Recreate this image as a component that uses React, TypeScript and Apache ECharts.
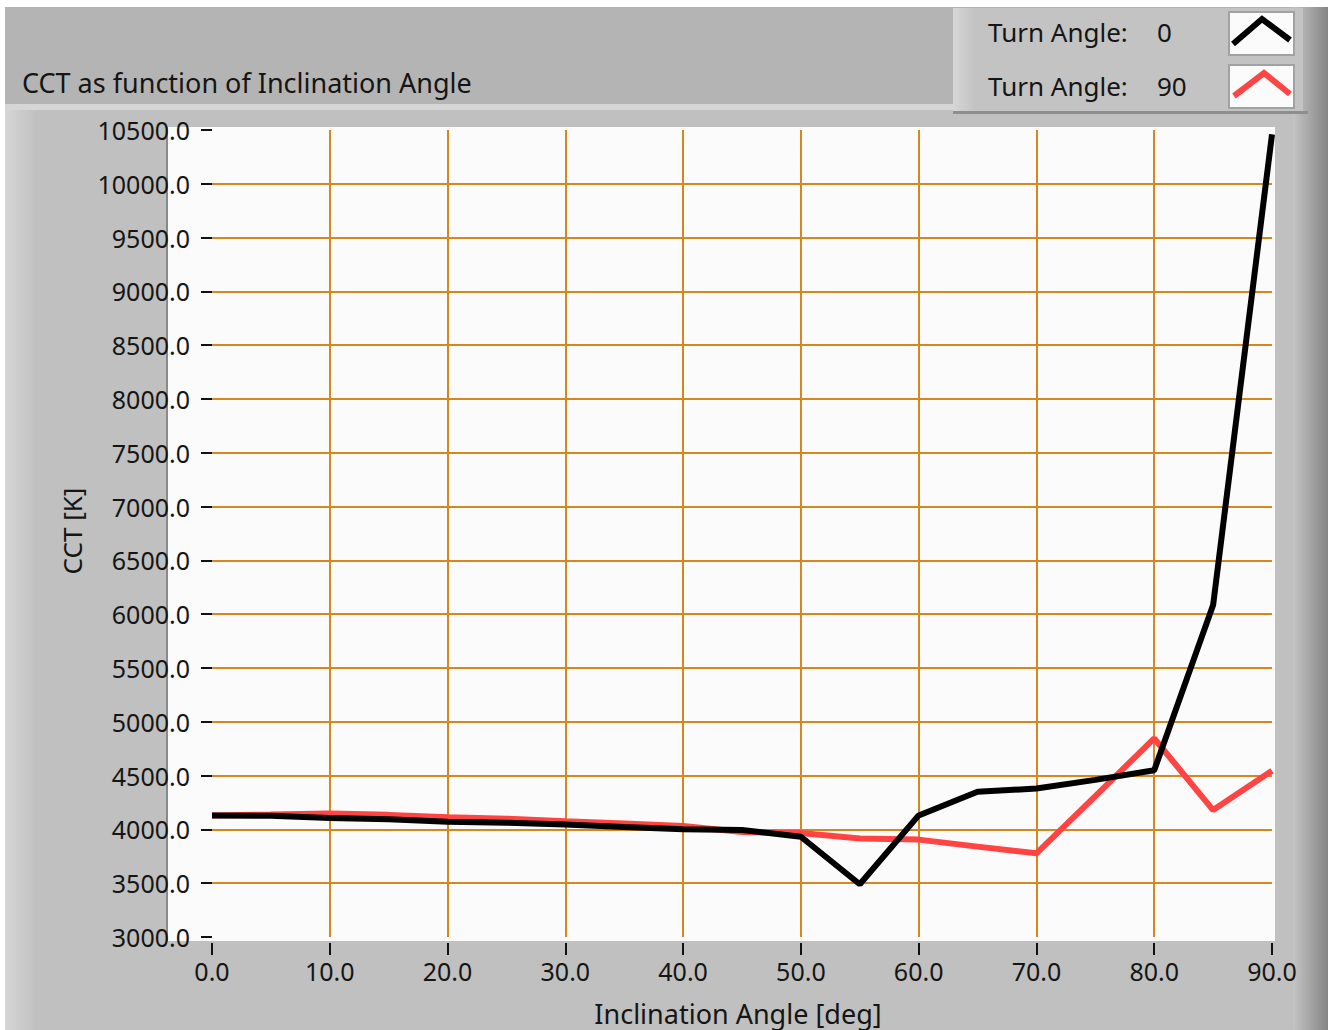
import React, { useEffect, useRef } from "react";
import * as echarts from "echarts";

const angles = [0, 5, 10, 15, 20, 25, 30, 35, 40, 45, 50, 55, 60, 65, 70, 75, 80, 85, 90];
const cctTurn0 = [4130, 4127, 4105, 4095, 4072, 4062, 4045, 4022, 4002, 3994, 3932, 3490, 4130, 4350, 4380, 4460, 4550, 6085, 10460];
const cctTurn90 = [4130, 4138, 4148, 4135, 4112, 4100, 4076, 4055, 4032, 3975, 3966, 3915, 3905, 3840, 3778, 4310, 4845, 4180, 4545];
const xTicks = { min: 0, max: 90, interval: 10 };
const yTicks = { min: 3000, max: 10500, interval: 500 };
const titleText = "CCT as function of Inclination Angle";
const legendNames = ["Turn Angle:", "Turn Angle:"];
const legendValues = ["0", "90"];
const xName = "Inclination Angle [deg]";
const yName = "CCT [K]";

const FONT = "'Noto Sans', 'Open Sans', sans-serif";
const TXT = "#151515";

export default function App() {
  const ref = useRef<HTMLDivElement>(null);
  useEffect(() => {
    if (!ref.current) return;
    const chart = echarts.init(ref.current, undefined, { renderer: "svg" });
    const pts0 = angles.map((a, i) => [a, cctTurn0[i]]);
    const pts90 = angles.map((a, i) => [a, cctTurn90[i]]);
    const bg = (shape: any, fill: any, z = -100) => ({ type: "rect", shape, style: { fill }, z, silent: true });
    chart.setOption({
      animation: false,
      backgroundColor: "#ffffff",
      grid: { left: 212, right: 56, top: 130, bottom: 93 },
      xAxis: {
        type: "value",
        min: xTicks.min,
        max: xTicks.max,
        interval: xTicks.interval,
        offset: 6,
        axisLine: { show: false },
        axisTick: { show: true, length: 12, lineStyle: { color: "#111", width: 2 } },
        axisLabel: { formatter: (v: number) => v.toFixed(1), fontFamily: FONT, fontSize: 25, color: TXT, margin: 15 },
        splitLine: { show: true, showMinLine: false, showMaxLine: false, lineStyle: { color: "#d4881e", width: 2 } },
      },
      yAxis: {
        type: "value",
        min: yTicks.min,
        max: yTicks.max,
        interval: yTicks.interval,
        offset: 5,
        axisLine: { show: false },
        axisTick: { show: true, length: 11, lineStyle: { color: "#111", width: 2 } },
        axisLabel: { formatter: (v: number) => v.toFixed(1), fontFamily: FONT, fontSize: 25, color: TXT, margin: 17 },
        splitLine: { show: true, showMinLine: false, showMaxLine: false, lineStyle: { color: "#d4881e", width: 2 } },
      },
      graphic: [
        bg({ x: 5, y: 7, width: 1323, height: 100 }, "#b4b4b4"),
        bg({ x: 5, y: 105, width: 1323, height: 925 }, "#c0c0c0"),
        bg({ x: 5, y: 104, width: 950, height: 6 }, "#d6d6d6"),
        bg({ x: 5, y: 110, width: 32, height: 920 }, new echarts.graphic.LinearGradient(0, 0, 1, 0, [
          { offset: 0, color: "#d6d6d6" }, { offset: 1, color: "#c0c0c0" }])),
        bg({ x: 1293, y: 7, width: 35, height: 1023 }, new echarts.graphic.LinearGradient(0, 0, 1, 0, [
          { offset: 0, color: "#c4c4c4" }, { offset: 1, color: "#858585" }])),
        bg({ x: 953, y: 8, width: 350, height: 104 }, "#c3c3c3"),
        bg({ x: 953, y: 8, width: 22, height: 104 }, new echarts.graphic.LinearGradient(0, 0, 1, 0, [
          { offset: 0, color: "#d6d6d6" }, { offset: 1, color: "#c3c3c3" }])),
        bg({ x: 953, y: 111, width: 355, height: 3 }, "#8e8e8e"),
        bg({ x: 166, y: 127, width: 1109, height: 814 }, "#fbfbfb", -50),
        { type: "line", shape: { x1: 167, y1: 127, x2: 167, y2: 941 }, style: { stroke: "#8a8a8a", lineWidth: 2 }, z: -40, silent: true },
        // legend swatches
        { type: "rect", shape: { x: 1229, y: 12, width: 65, height: 43 }, style: { fill: "#fbfbfb", stroke: "#a2a2a2", lineWidth: 2 }, z: 10 },
        { type: "rect", shape: { x: 1229, y: 65, width: 65, height: 43 }, style: { fill: "#fbfbfb", stroke: "#a2a2a2", lineWidth: 2 }, z: 10 },
        { type: "polyline", shape: { points: [[1233, 44], [1262, 19], [1290, 40]] }, style: { stroke: "#000", lineWidth: 6, fill: null }, z: 11 },
        { type: "polyline", shape: { points: [[1234, 96], [1264, 73], [1290, 94]] }, style: { stroke: "#ff4444", lineWidth: 6, fill: null }, z: 11 },
        // texts
        { type: "text", x: 22, y: 82, style: { text: titleText, font: `27px ${FONT}`, fill: TXT, verticalAlign: "middle" }, z: 10 },
        { type: "text", x: 988, y: 32, style: { text: legendNames[0], font: `26px ${FONT}`, fill: TXT, verticalAlign: "middle" }, z: 10 },
        { type: "text", x: 1157, y: 32, style: { text: legendValues[0], font: `26px ${FONT}`, fill: TXT, verticalAlign: "middle" }, z: 10 },
        { type: "text", x: 988, y: 86, style: { text: legendNames[1], font: `26px ${FONT}`, fill: TXT, verticalAlign: "middle" }, z: 10 },
        { type: "text", x: 1157, y: 86, style: { text: legendValues[1], font: `26px ${FONT}`, fill: TXT, verticalAlign: "middle" }, z: 10 },
        { type: "text", x: 738, y: 1013, style: { text: xName, font: `27px ${FONT}`, fill: TXT, align: "center", verticalAlign: "middle" }, z: 10 },
        { type: "text", x: 72, y: 531, rotation: Math.PI / 2, style: { text: yName, font: `26px ${FONT}`, fill: TXT, align: "center", verticalAlign: "middle" }, z: 10 },
      ],
      series: [
        { name: "Turn Angle: 90", type: "line", data: pts90, showSymbol: false, lineStyle: { color: "#ff4444", width: 6 }, z: 3 },
        { name: "Turn Angle: 0", type: "line", data: pts0, showSymbol: false, lineStyle: { color: "#000000", width: 6 }, z: 4 },
      ],
    });
    return () => chart.dispose();
  }, []);
  return <div ref={ref} style={{ position: "absolute", left: 0, top: 0, width: 1328, height: 1030 }} />;
}
